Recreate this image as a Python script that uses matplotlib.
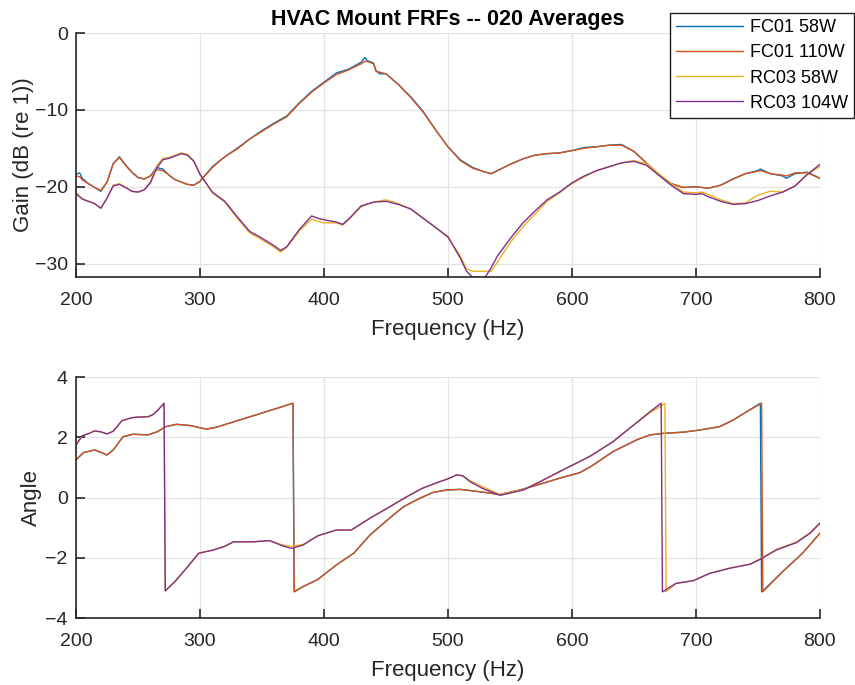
import numpy as np
import matplotlib
matplotlib.use('Agg')
import matplotlib.pyplot as plt

plt.rcParams['font.family'] = ['Liberation Sans', 'DejaVu Sans']

# series names + MATLAB default colours
labels = ['FC01 58W', 'FC01 110W', 'RC03 58W', 'RC03 104W']
colors = ['#0072BD', '#D95319', '#EDB120', '#7E2F8E']

# ---- gain (dB) ----
freq_fc = [200, 203, 205, 210, 215, 220, 225, 230, 235, 240, 245, 250, 255, 260, 265, 270, 275,
           280, 285, 290, 295, 300, 310, 320, 330, 340, 350, 360, 370, 380, 390, 400, 410,
           420, 430, 433, 435, 440, 442, 445, 450, 460, 470, 480, 490, 500, 510, 520, 530,
           535, 540, 550, 560, 570, 580, 590, 600, 610, 620, 630, 640, 650, 660, 670, 680,
           690, 700, 710, 720, 730, 740, 750, 752, 760, 770, 773, 780, 790, 800]
gain_fc58 = [-18.4, -18.2, -18.9, -19.6, -20.1, -20.6, -19.4, -17.0, -16.1, -17.2, -18.1, -18.8,
             -19.0, -18.6, -17.5, -17.7, -18.5, -19.1, -19.4, -19.7, -19.8, -19.3, -17.4, -16.1,
             -15.0, -13.8, -12.7, -11.7, -10.8, -9.1, -7.6, -6.4, -5.2, -4.7, -3.8, -3.2, -3.6,
             -3.9, -4.9, -5.3, -5.3, -6.7, -8.3, -10.2, -12.6, -14.8, -16.5, -17.5, -18.1,
             -18.3, -17.9, -17.1, -16.4, -15.9, -15.7, -15.6, -15.3, -14.9, -14.8, -14.6, -14.5,
             -15.4, -16.9, -18.4, -19.6, -20.1, -20.0, -20.2, -19.8, -19.0, -18.3, -17.9, -17.7,
             -18.3, -18.6, -18.9, -18.3, -18.1, -18.9]
gain_fc110 = [-18.6, -18.7, -19.1, -19.6, -20.1, -20.5, -19.4, -17.0, -16.2, -17.2, -18.1, -18.8,
              -19.0, -18.6, -17.8, -17.9, -18.5, -19.1, -19.4, -19.7, -19.8, -19.3, -17.5, -16.1,
              -15.1, -13.8, -12.8, -11.8, -10.9, -9.2, -7.7, -6.5, -5.4, -4.8, -4.0, -3.7, -3.7,
              -4.0, -5.0, -5.1, -5.3, -6.7, -8.4, -10.3, -12.6, -14.8, -16.6, -17.6, -18.1,
              -18.3, -17.9, -17.1, -16.4, -15.9, -15.7, -15.6, -15.3, -15.0, -14.8, -14.6, -14.6,
              -15.4, -16.9, -18.4, -19.6, -20.1, -20.0, -20.2, -19.8, -19.0, -18.3, -18.0, -17.9,
              -18.3, -18.5, -18.6, -18.2, -18.2, -18.9]

freq_rc = [200, 205, 210, 215, 220, 225, 230, 235, 240, 245, 250, 255, 260, 265, 270, 275, 280,
           285, 290, 295, 300, 310, 320, 330, 340, 350, 360, 365, 370, 380, 390, 395, 400, 410,
           415, 420, 430, 440, 450, 460, 470, 480, 490, 500, 510, 515, 520, 530, 535, 540, 550,
           560, 570, 580, 590, 600, 610, 620, 630, 640, 650, 660, 670, 680, 690, 700, 705, 710,
           720, 730, 740, 750, 760, 770, 780, 790, 800]
gain_rc58 = [-20.7, -21.6, -21.9, -22.2, -22.8, -21.5, -19.8, -19.6, -20.1, -20.6, -20.7, -20.4,
             -19.4, -17.3, -16.3, -16.2, -15.9, -15.6, -15.8, -16.6, -18.3, -20.8, -22.0, -24.1,
             -26.0, -26.9, -27.9, -28.5, -27.9, -25.8, -24.2, -24.5, -24.7, -24.7, -25.0, -24.3,
             -22.6, -22.0, -21.7, -22.2, -22.9, -24.1, -25.3, -26.6, -29.0, -30.7, -31.0, -31.0,
             -31.0, -29.8, -27.3, -25.3, -23.6, -21.9, -20.8, -19.6, -18.7, -17.9, -17.4, -16.9,
             -16.6, -17.0, -18.3, -19.6, -20.7, -20.8, -20.7, -21.0, -21.7, -22.2, -22.1, -21.1,
             -20.6, -20.7, -19.9, -18.3, -17.4]
gain_rc104 = [-20.9, -21.6, -21.9, -22.2, -22.8, -21.5, -19.9, -19.7, -20.1, -20.6, -20.7, -20.4,
              -19.5, -17.6, -16.5, -16.3, -16.0, -15.7, -15.9, -16.7, -18.4, -20.7, -21.9, -23.9,
              -25.8, -26.7, -27.7, -28.3, -27.8, -25.6, -23.8, -24.1, -24.3, -24.6, -24.9, -24.2,
              -22.5, -22.0, -21.9, -22.3, -22.9, -24.1, -25.3, -26.5, -29.3, -31.0, -31.8, -31.8,
              -30.5, -29.0, -26.8, -24.8, -23.2, -21.7, -20.7, -19.5, -18.6, -17.9, -17.4, -16.9,
              -16.7, -17.2, -18.5, -19.8, -20.9, -21.0, -20.9, -21.3, -21.9, -22.3, -22.2, -21.8,
              -21.2, -20.7, -19.9, -18.4, -17.1]

# ---- phase (rad), wrapped ----
freq_ph_fc = [200, 206, 215, 220, 225, 230, 238, 246, 258, 266, 272, 281, 292, 305, 313, 330,
              345, 362, 375, 376, 383, 395, 410, 424, 437, 451, 464, 477, 488, 499, 510, 526,
              542, 558, 574, 590, 606, 615, 633, 652, 663, 674, 690, 703, 719, 730, 741, 752,
              753, 754, 770, 786, 800]
phase_fc58 = [1.25, 1.49, 1.58, 1.50, 1.41, 1.58, 2.02, 2.10, 2.08, 2.19, 2.35, 2.43, 2.39, 2.27,
              2.33, 2.55, 2.74, 2.96, 3.13, -3.13, -2.96, -2.72, -2.24, -1.85, -1.25, -0.75,
              -0.31, -0.03, 0.17, 0.25, 0.27, 0.19, 0.10, 0.25, 0.44, 0.64, 0.82, 1.02, 1.52,
              1.91, 2.08, 2.13, 2.17, 2.24, 2.35, 2.57, 2.85, 3.13, -3.13, -3.10, -2.46, -1.85,
              -1.19]
phase_fc110 = [1.25, 1.49, 1.58, 1.50, 1.41, 1.58, 2.02, 2.10, 2.08, 2.19, 2.35, 2.43, 2.39, 2.27,
               2.33, 2.55, 2.74, 2.96, 3.13, -3.13, -2.96, -2.72, -2.24, -1.85, -1.25, -0.75,
               -0.31, -0.03, 0.17, 0.25, 0.27, 0.19, 0.10, 0.25, 0.44, 0.64, 0.82, 1.02, 1.52,
               1.91, 2.08, 2.13, 2.17, 2.24, 2.35, 2.57, 2.85, 3.10, 3.13, -3.13, -2.46, -1.85,
               -1.19]

freq_ph_rc = [200, 205, 210, 215, 220, 225, 230, 237, 245, 250, 258, 262, 266, 271, 272, 280,
              290, 299, 310, 320, 327, 343, 356, 367, 374, 383, 395, 410, 422, 437, 453, 467,
              479, 491, 500, 507, 512, 518, 528, 542, 561, 574, 590, 606, 615, 633, 649, 663,
              672, 673, 675, 676, 684, 698, 711, 727, 744, 752, 765, 781, 792, 800]
phase_rc58 = [1.74, 2.05, 2.12, 2.21, 2.18, 2.11, 2.20, 2.55, 2.65, 2.67, 2.68, 2.75, 2.90, 3.13,
              -3.10, -2.78, -2.30, -1.85, -1.75, -1.62, -1.47, -1.47, -1.43, -1.58, -1.62, -1.56,
              -1.27, -1.08, -1.08, -0.69, -0.31, 0.03, 0.30, 0.49, 0.62, 0.75, 0.72, 0.56, 0.36,
              0.10, 0.27, 0.52, 0.86, 1.19, 1.38, 1.85, 2.38, 2.82, 3.04, 3.07, 3.13, -3.13,
              -2.85, -2.76, -2.52, -2.35, -2.21, -2.03, -1.72, -1.48, -1.17, -0.84]
phase_rc104 = [1.74, 2.05, 2.12, 2.21, 2.18, 2.11, 2.20, 2.55, 2.65, 2.67, 2.68, 2.75, 2.90, 3.13,
               -3.10, -2.78, -2.30, -1.85, -1.75, -1.62, -1.47, -1.47, -1.43, -1.61, -1.69, -1.58,
               -1.27, -1.08, -1.08, -0.69, -0.31, 0.03, 0.30, 0.49, 0.62, 0.75, 0.72, 0.52, 0.30,
               0.07, 0.25, 0.52, 0.86, 1.19, 1.38, 1.85, 2.38, 2.85, 3.13, -3.13, -3.09, -3.05,
               -2.85, -2.76, -2.52, -2.35, -2.21, -2.05, -1.74, -1.50, -1.19, -0.86]

txt = '#262626'
fig = plt.figure(figsize=(8.55, 6.85), dpi=100)
ax1 = fig.add_axes([0.0889, 0.5956, 0.870, 0.3562])
ax2 = fig.add_axes([0.0889, 0.0978, 0.870, 0.3518])


def style(ax):
    ax.grid(True, color='#E3E3E3', lw=0.9)
    ax.set_axisbelow(True)
    for s in ['top', 'right']:
        ax.spines[s].set_visible(False)
    for s in ['left', 'bottom']:
        ax.spines[s].set_color(txt)
        ax.spines[s].set_linewidth(1.2)
    ax.tick_params(direction='in', length=6.5, width=1.2, colors=txt, labelsize=14)
    ax.tick_params(axis='x', pad=11)
    ax.tick_params(axis='y', pad=6)
    ax.set_xlim(200, 800)
    ax.set_xticks([200, 300, 400, 500, 600, 700, 800])
    ax.set_xlabel('Frequency (Hz)', fontsize=16, color=txt, labelpad=7)


gain_x = [freq_fc, freq_fc, freq_rc, freq_rc]
gain_y = [gain_fc58, gain_fc110, gain_rc58, gain_rc104]
for x, y, c, lab in zip(gain_x, gain_y, colors, labels):
    ax1.plot(x, y, color=c, lw=1.0, label=lab)
style(ax1)
ax1.set_ylim(-31.75, 0)
ax1.set_yticks([-30, -20, -10, 0])
ax1.set_ylabel('Gain (dB (re 1))', fontsize=16, color=txt)
ax1.yaxis.set_label_coords(-0.056, 0.5)
ax1.set_title('HVAC Mount FRFs -- 020 Averages', fontsize=15.5, fontweight='bold',
              color='black', pad=6)

ph_x = [freq_ph_fc, freq_ph_fc, freq_ph_rc, freq_ph_rc]
ph_y = [phase_fc58, phase_fc110, phase_rc58, phase_rc104]
for x, y, c in zip(ph_x, ph_y, colors):
    ax2.plot(x, y, color=c, lw=1.0)
style(ax2)
ax2.set_ylim(-4, 4)
ax2.set_yticks([-4, -2, 0, 2, 4])
ax2.set_ylabel('Angle', fontsize=16, color=txt)
ax2.yaxis.set_label_coords(-0.046, 0.5)

leg = ax1.legend(loc='upper right', bbox_to_anchor=(854 / 855, 1 - 13 / 685),
                 bbox_transform=fig.transFigure, borderaxespad=0, fontsize=13,
                 fancybox=False, framealpha=1, edgecolor='#202020', handlelength=3.7,
                 handletextpad=0.35, labelspacing=0.45, borderpad=0.35)
leg.get_frame().set_linewidth(1.0)

fig.savefig('out.png', dpi=100)
